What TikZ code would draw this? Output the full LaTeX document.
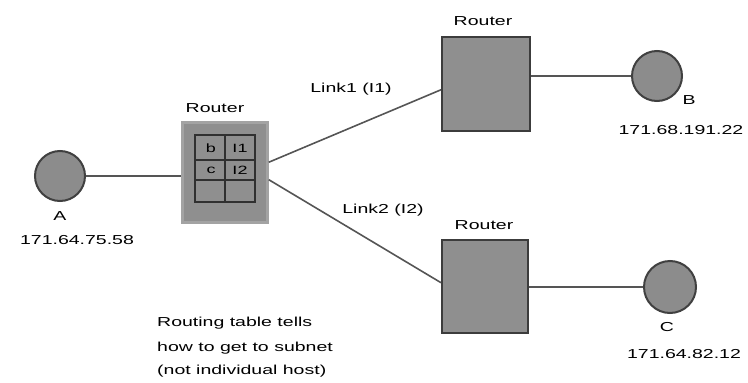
\documentclass[tikz,border=0pt]{standalone}
\usepackage{fontspec}
\setmainfont[FakeStretch=1.5]{Liberation Sans}
\usetikzlibrary{calc}
\definecolor{hostfill}{HTML}{8C8C8C}
\definecolor{hostline}{HTML}{404040}
\definecolor{rfill}{HTML}{8F8F8F}
\definecolor{rline}{HTML}{3C3C3C}
\definecolor{rframe}{HTML}{A3A3A3}
\definecolor{wire}{HTML}{555555}
\definecolor{grid}{HTML}{303030}
\begin{document}
\begin{tikzpicture}[x=1pt,y=-1pt,
  host/.style={circle,fill=hostfill,draw=hostline,line width=2pt,inner sep=0pt},
  router/.style={rectangle,fill=rfill,draw=rline,line width=2pt,inner sep=0pt},
  lbl/.style={inner sep=0pt,font=\fontsize{13}{15}\selectfont},
  cell/.style={inner sep=0pt,font=\fontsize{12}{14}\selectfont},
  wireline/.style={draw=wire,line width=1.6pt},
  gridline/.style={draw=grid,line width=2pt}]
\useasboundingbox (0,0) rectangle (748,383);

% hosts
\node[host,minimum size=50pt] (A) at (60,176) {};
\node[host,minimum size=50pt] (B) at (657,76) {};
\node[host,minimum size=52pt] (C) at (670,287) {};

% routers
\node[router,fill=rfill,draw=rframe,line width=2.5pt,minimum width=85pt,minimum height=100pt] (R1) at (225,172.5) {};
\node[router,minimum width=88pt,minimum height=94pt] (R2) at (486,84) {};
\node[router,minimum width=86pt,minimum height=93pt] (R3) at (485,286.5) {};

% routing table grid inside R1
\coordinate (g1) at (195,135);
\coordinate (g2) at (255,202);
\draw[gridline] (g1) rectangle (g2);
\draw[gridline] (225,135) -- (225,202);
\draw[gridline] (195,160) -- (255,160);
\draw[gridline] (195,180) -- (255,180);
\node[cell] (cb) at (211,148) {b};
\node[cell] (ci1) at (240,148) {I1};
\node[cell] (cc) at (211,170) {c};
\node[cell] (ci2) at (240,170) {I2};

% connectors
\draw[wireline] (A.east) -- (A.east -| R1.west);
\coordinate (r1a) at ($(R1.north east)!0.40!(R1.south east)$);
\coordinate (r1b) at ($(R1.north east)!0.57!(R1.south east)$);
\coordinate (r2a) at ($(R2.north west)!0.56!(R2.south west)$);
\coordinate (r3a) at ($(R3.north west)!0.46!(R3.south west)$);
\draw[wireline] (r1a) -- (r2a);
\draw[wireline] (r1b) -- (r3a);
\draw[wireline] (B.west -| R2.east) -- (B.west);
\draw[wireline] (C.west -| R3.east) -- (C.west);

% labels
\node[lbl] (lr1) at (215,108) {Router};
\node[lbl] (lr2) at (483,21) {Router};
\node[lbl] (lr3) at (484,225) {Router};
\node[lbl] (l1) at (351,89) {Link1 (I1)};
\node[lbl] (l2) at (383,210) {Link2 (I2)};
\node[lbl] (la) at (60,216) {A};
\node[lbl] (ipa) at (77,240) {171.64.75.58};
\node[lbl] (lb) at (689,100) {B};
\node[lbl] (ipb) at (681,130) {171.68.191.22};
\node[lbl] (lc) at (667,327) {C};
\node[lbl] (ipc) at (684,354) {171.64.82.12};
\node[lbl,anchor=west] (t1) at (157,323) {Routing table tells};
\node[lbl,anchor=west] (t2) at (157,348) {how to get to subnet};
\node[lbl,anchor=west] (t3) at (157,371) {(not individual host)};
\end{tikzpicture}
\end{document}
